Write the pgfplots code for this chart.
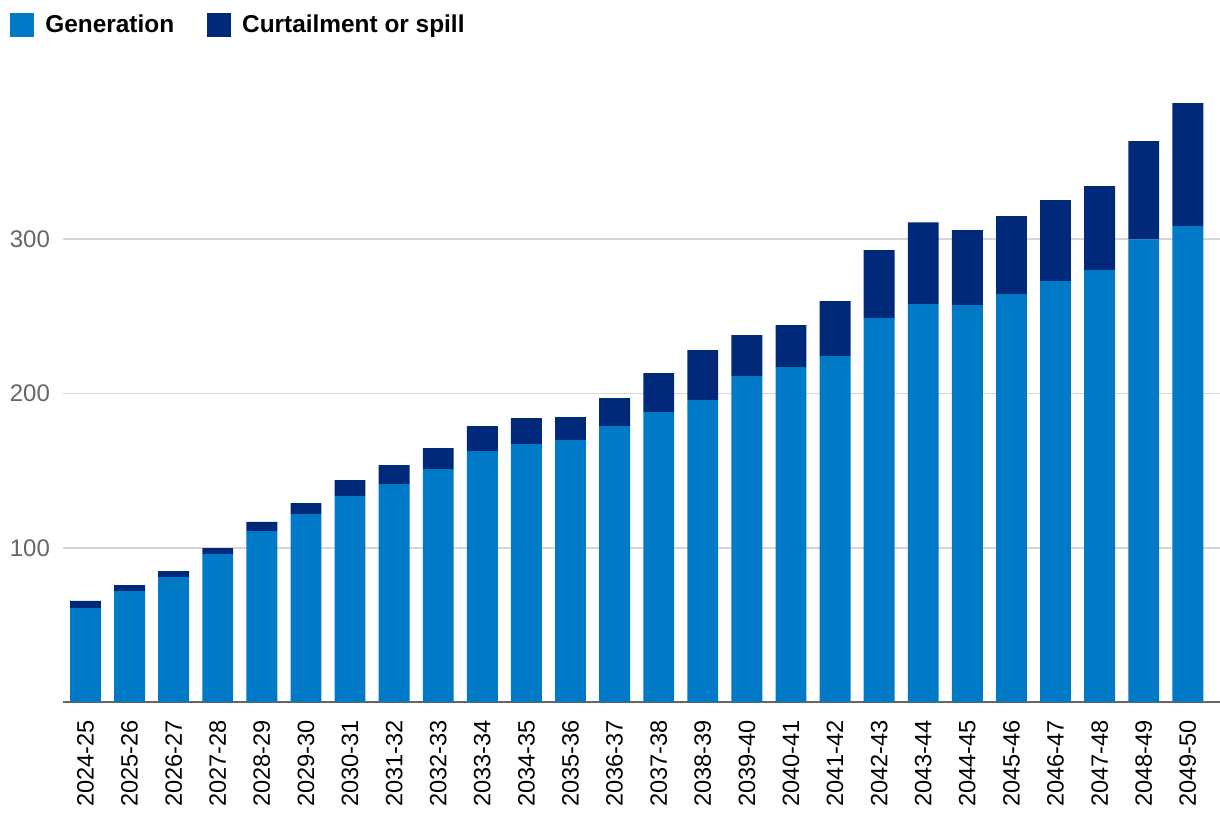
\documentclass[border=0pt]{standalone}
\usepackage{pgfplots}
\pgfplotsset{compat=1.18}
\usepackage{fontspec}
\setmainfont{Liberation Sans}
\definecolor{gen}{HTML}{007AC7}
\definecolor{curt}{HTML}{00297A}
\definecolor{gridc}{HTML}{D6D6D6}
\definecolor{axc}{HTML}{666666}

% generation and curtailment (TWh)
\pgfplotstableread{
x gen curt
0  60.9  4.6
1  71.9  3.9
2  81.0  3.9
3  95.9  3.9
4  110.8 5.9
5  121.8 7.2
6  133.5 10.4
7  141.3 12.3
8  151.0 13.6
9  162.7 16.2
10 167.2 16.8
11 169.8 14.9
12 178.9 18.1
13 188.0 25.2
14 195.7 32.4
15 211.3 26.5
16 217.1 27.2
17 224.2 35.7
18 248.9 44.0
19 257.9 53.1
20 257.3 48.6
21 264.4 50.6
22 272.8 52.5
23 280.0 54.4
24 300.0 63.6
25 308.5 79.7
}\datatable

\begin{document}
\begin{tikzpicture}
\begin{axis}[
    scale only axis,
    width=578.5pt, height=308.5pt,
    ybar stacked,
    bar width=0.7,
    xmin=-0.51, xmax=25.73,
    ymin=0, ymax=400,
    axis y line*=left,
    y axis line style={draw=none},
    axis x line*=bottom,
    x axis line style={axc, line width=1pt, -},
    xtick=data,
    xticklabels={2024-25,2025-26,2026-27,2027-28,2028-29,2029-30,2030-31,2031-32,2032-33,2033-34,2034-35,2035-36,2036-37,2037-38,2038-39,2039-40,2040-41,2041-42,2042-43,2043-44,2044-45,2045-46,2046-47,2047-48,2048-49,2049-50},
    x tick label style={rotate=90, anchor=east, font=\fontsize{11.8}{14}\selectfont, black},
    major tick length=0pt,
    xticklabel shift=5.5pt,
    ytick={100,200,300},
    ymajorgrids=true,
    grid style={gridc, line width=0.9pt},
    yticklabel style={font=\fontsize{12}{14}\selectfont, axc},
    yticklabel shift=3pt,
    /pgf/number format/assume math mode=true,
    legend columns=2,
    legend style={at={(rel axis cs:-0.0458,1.1216)}, anchor=north west, draw=none, fill=none,
        inner sep=0pt, font=\bfseries\fontsize{12.2}{15}\selectfont,
        /tikz/every odd column/.append style={column sep=3.5pt},
        /tikz/every even column/.append style={column sep=14.5pt}},
    legend image code/.code={\fill[#1] (0pt,-6pt) rectangle (12pt,6pt);},
    legend cell align=left,
]
\addplot[fill=gen, draw=none] table[x=x, y=gen] {\datatable};
\addplot[fill=curt, draw=none] table[x=x, y=curt] {\datatable};
\legend{Generation, Curtailment or spill}
\end{axis}
\pgfresetboundingbox
\path[use as bounding box] (-31.5pt,-69pt) rectangle (578.5pt,351pt);
\end{tikzpicture}
\end{document}
